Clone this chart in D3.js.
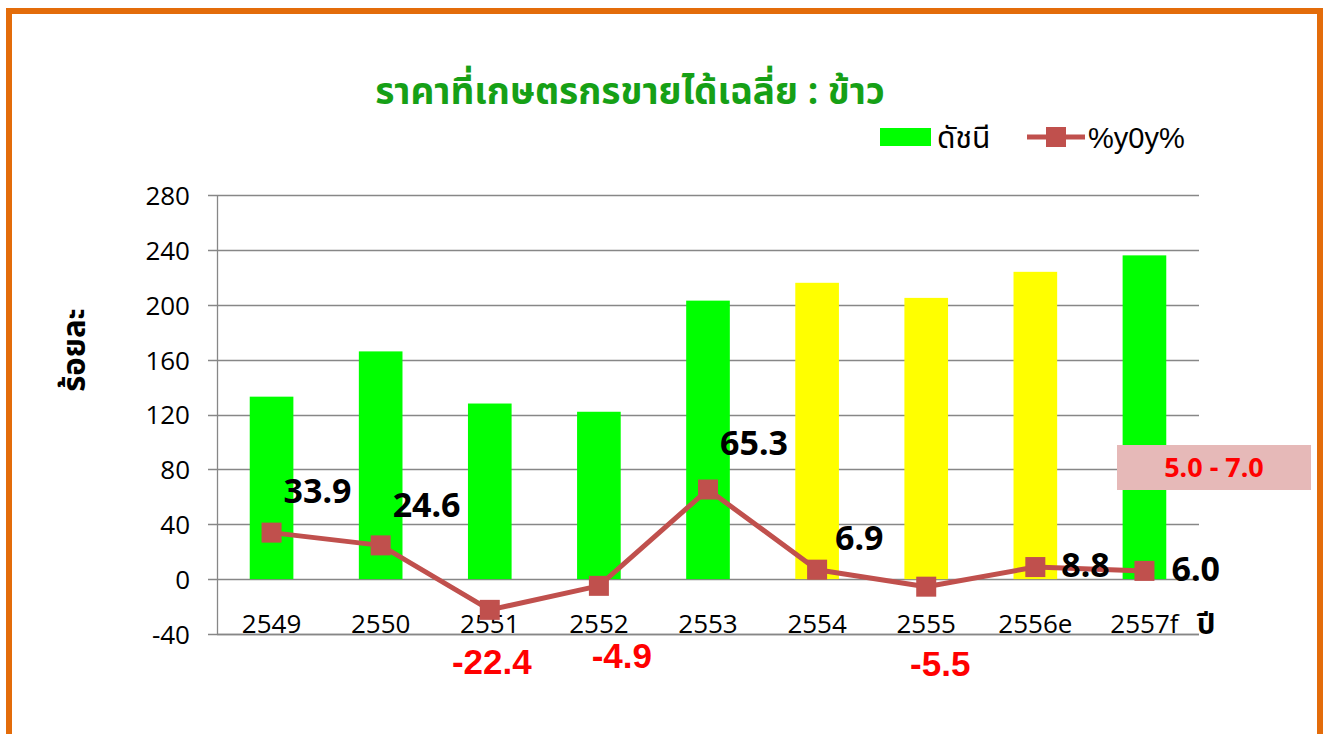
<!DOCTYPE html>
<html>
<head>
<meta charset="utf-8">
<script src="https://cdn.jsdelivr.net/npm/d3@7"></script>
<style>
  html, body { margin: 0; padding: 0; background: #fff; }
  svg { display: block; }
</style>
</head>
<body>
<svg id="chart" width="1323" height="734"></svg>
<script>
// ---- data ----
const categories = ["2549", "2550", "2551", "2552", "2553", "2554", "2555", "2556e", "2557f"];
const indexValues = [133, 166, 128, 122, 203, 216, 205, 224, 236];
const yoyValues = [33.9, 24.6, -22.4, -4.9, 65.3, 6.9, -5.5, 8.8, 6.0];
const yoyLabels = ["33.9", "24.6", "-22.4", "-4.9", "65.3", "6.9", "-5.5", "8.8", "6.0"];
const barIsForecast = [false, false, false, false, false, true, true, true, false];
const yTicks = [-40, 0, 40, 80, 120, 160, 200, 240, 280];
const titleText = "ราคาที่เกษตรกรขายได้เฉลี่ย : ข้าว";
const legendLabels = ["ดัชนี", "%y0y%"];
const yAxisTitle = "ร้อยละ";
const xAxisTitle = "ปี";
const rangeNote = "5.0 - 7.0";

// ---- layout (label offsets relative to point, px) ----
const labelOffsets = [[12, -30], [12, -28], [2, 64], [23, 82], [12, -35], [18, -20], [14, 89], [26, 10], [27, 10]];

const svg = d3.select("#chart");
const plot = { left: 217, right: 1199, top: 195, bottom: 634 };

const x = d3.scaleBand().domain(categories).range([plot.left, plot.right]).padding(0);
const y = d3.scaleLinear().domain([-40, 280]).range([plot.bottom, plot.top]);
const cx = c => x(c) + x.bandwidth() / 2;

const green = "#00FF00", yellow = "#FFFF00", lineColor = "#C0504D", gridColor = "#878787";

// border frame
svg.append("rect").attr("x", 9).attr("y", 11).attr("width", 1311).attr("height", 800)
  .attr("fill", "none").attr("stroke", "#E36C0A").attr("stroke-width", 6);

// gridlines
svg.append("g").selectAll("line").data(yTicks).join("line")
  .attr("x1", plot.left - 9).attr("x2", plot.right)
  .attr("y1", d => Math.round(y(d)) + 0.5).attr("y2", d => Math.round(y(d)) + 0.5)
  .attr("stroke", gridColor).attr("stroke-width", 1.3);

// y axis via d3 axis
const yAxis = d3.axisLeft(y).tickValues(yTicks).tickFormat(d => String(d)).tickSize(0).tickPadding(27);
const gy = svg.append("g").attr("transform", `translate(${plot.left},0)`).call(yAxis);
gy.select(".domain").attr("stroke", gridColor).attr("stroke-width", 1.3);
gy.selectAll("text").attr("font-family", "'Open Sans', 'Liberation Sans', sans-serif")
  .attr("font-size", 26).attr("fill", "#000").attr("dy", "0.36em");

// bars
svg.append("g").selectAll("rect").data(categories).join("rect")
  .attr("x", (c) => cx(c) - x.bandwidth() * 0.2)
  .attr("width", x.bandwidth() * 0.4)
  .attr("y", (c, i) => y(indexValues[i]))
  .attr("height", (c, i) => y(0) - y(indexValues[i]))
  .attr("fill", (c, i) => barIsForecast[i] ? yellow : green);

// x axis category labels (between 0 and -40 lines)
const xAxis = d3.axisBottom(x).tickSize(0).tickPadding(0);
const gx = svg.append("g").attr("transform", `translate(0,${y(-40) - 1})`).call(xAxis);
gx.select(".domain").remove();
gx.selectAll("text").attr("font-family", "'Open Sans', 'Liberation Sans', sans-serif")
  .attr("font-size", 26).attr("fill", "#000").attr("dy", "0").attr("y", 0);

// x axis line at bottom
svg.append("line").attr("x1", plot.left).attr("x2", plot.right)
  .attr("y1", Math.round(y(-40)) + 0.5).attr("y2", Math.round(y(-40)) + 0.5)
  .attr("stroke", gridColor).attr("stroke-width", 1.3);

// line series
const line = d3.line().x((d, i) => cx(categories[i])).y(d => y(d));
svg.append("path").datum(yoyValues).attr("d", line)
  .attr("fill", "none").attr("stroke", lineColor).attr("stroke-width", 5).attr("stroke-linejoin", "round");

svg.append("g").selectAll("rect").data(yoyValues).join("rect")
  .attr("x", (d, i) => cx(categories[i]) - 10).attr("y", d => y(d) - 10)
  .attr("width", 20).attr("height", 20).attr("fill", lineColor);

// data labels
svg.append("g").selectAll("text").data(yoyValues).join("text")
  .attr("x", (d, i) => cx(categories[i]) + labelOffsets[i][0])
  .attr("y", (d, i) => y(d) + labelOffsets[i][1])
  .attr("text-anchor", d => d < 0 ? "middle" : "start")
  .attr("font-family", d => d < 0 ? "'Liberation Sans', Arial, sans-serif" : "'Noto Sans', 'DejaVu Sans', sans-serif")
  .attr("font-weight", "bold")
  .attr("font-size", d => d < 0 ? 35 : 34)
  .attr("fill", d => d < 0 ? "#FF0000" : "#000")
  .text((d, i) => yoyLabels[i]);

// range note box
svg.append("rect").attr("x", 1117).attr("y", 445).attr("width", 194).attr("height", 45).attr("fill", "#E6B9B8");
svg.append("text").attr("x", 1214).attr("y", 477).attr("text-anchor", "middle")
  .attr("font-family", "'Noto Sans', 'DejaVu Sans', sans-serif").attr("font-weight", "bold")
  .attr("font-size", 27).attr("fill", "#FF0000").text(rangeNote);

// title
svg.append("text").attr("x", 630).attr("y", 104).attr("text-anchor", "middle")
  .attr("font-family", "'Noto Sans Thai', 'Noto Sans', 'DejaVu Sans', sans-serif").attr("font-weight", "bold")
  .attr("font-size", 37).attr("fill", "#16A016").text(titleText);

// legend
svg.append("rect").attr("x", 880).attr("y", 128).attr("width", 51).attr("height", 18).attr("fill", green);
svg.append("text").attr("x", 937).attr("y", 148)
  .attr("font-family", "'Noto Sans Thai', 'Noto Sans', sans-serif").attr("font-size", 30).attr("fill", "#000").text(legendLabels[0]);
svg.append("line").attr("x1", 1027).attr("x2", 1085).attr("y1", 137).attr("y2", 137)
  .attr("stroke", lineColor).attr("stroke-width", 5);
svg.append("rect").attr("x", 1046).attr("y", 127).attr("width", 20).attr("height", 20).attr("fill", lineColor);
svg.append("text").attr("x", 1088).attr("y", 148)
  .attr("font-family", "'Liberation Sans', Arial, sans-serif").attr("font-size", 29).attr("fill", "#000").text(legendLabels[1]);

// axis titles
svg.append("text").attr("transform", "translate(85,350) rotate(-90)").attr("text-anchor", "middle")
  .attr("font-family", "'Noto Sans Thai', 'Noto Sans', sans-serif").attr("font-weight", "bold")
  .attr("font-size", 31).attr("fill", "#000").text(yAxisTitle);
svg.append("text").attr("x", 1197).attr("y", 634)
  .attr("font-family", "'Noto Sans Thai', 'Noto Sans', sans-serif").attr("font-weight", "bold")
  .attr("font-size", 29).attr("fill", "#000").text(xAxisTitle);
</script>
</body>
</html>
